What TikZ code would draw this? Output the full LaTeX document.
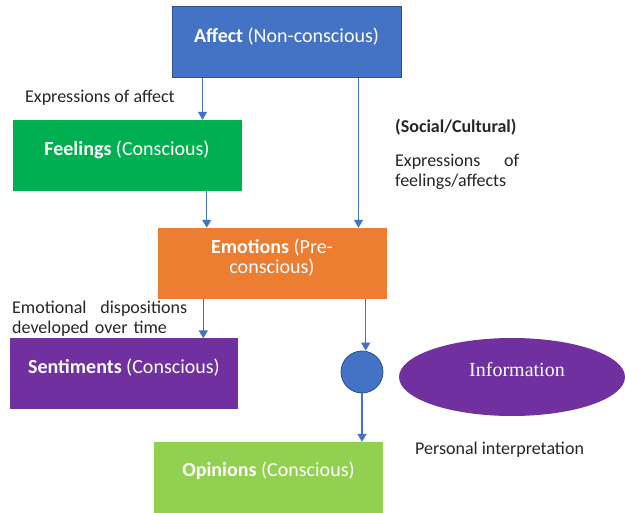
\documentclass[tikz,border=0pt]{standalone}
\usepackage{fontspec}
\setmainfont{Carlito}
\newfontfamily\infofont{Liberation Serif}
\usetikzlibrary{arrows.meta,shapes.geometric,calc}
\definecolor{cblue}{HTML}{4472C4}
\definecolor{cblueborder}{HTML}{2F528F}
\definecolor{cgreen}{HTML}{00B050}
\definecolor{corange}{HTML}{ED7D31}
\definecolor{cpurple}{HTML}{7030A0}
\definecolor{clime}{HTML}{92D050}
\definecolor{ctext}{HTML}{262626}
\begin{document}
\begin{tikzpicture}[x=1pt,y=-1pt,
  box/.style={rectangle, minimum width=229pt, minimum height=71pt, inner sep=0pt,
    text=white, font=\fontsize{20}{20}\selectfont, align=center},
  oneline/.style={text height=13pt, text depth=12pt},
  arr/.style={draw=cblue, line width=1.4pt, -{Triangle[width=9pt,length=8pt]}},
  lbl/.style={font=\fontsize{18}{20}\selectfont, text=ctext, inner sep=0pt}]
\useasboundingbox (0,0) rectangle (625,513);
% boxes
\node[box, oneline, fill=cblue, draw=cblueborder, line width=1pt] (affect) at (286.5,42.5) {\textbf{Affect} (Non-conscious)};
\node[box, oneline, fill=cgreen] (feelings) at (127,155.5) {\textbf{Feelings} (Conscious)};
\node[box, fill=corange, text height=33pt, text depth=13pt] (emotions) at (272,263.5) {\textbf{Emotions} (Pre-\\conscious)};
\node[box, oneline, fill=cpurple, minimum width=228pt, text depth=13pt] (sentiments) at (124,374) {\textbf{Sentiments} (Conscious)};
\node[box, oneline, fill=clime, text depth=14pt] (opinions) at (268.5,477.5) {\textbf{Opinions} (Conscious)};
% circle and ellipse
\node[circle, fill=cblue, draw=cblueborder, line width=0.8pt, minimum size=42pt, inner sep=0pt] (dot) at (362,372) {};
\node[ellipse, fill=cpurple, minimum width=226pt, minimum height=78pt, inner sep=0pt,
  text=white, font=\infofont\fontsize{20}{22}\selectfont, text height=13pt, text depth=13pt] (info) at (512,377) {\hspace{10pt}Information};
% arrows
\draw[arr] ([xshift=31pt]affect.south west) -- ([xshift=31pt]affect.south west |- feelings.north);
\draw[arr] ([xshift=-43pt]affect.south east) -- ([xshift=-43pt]affect.south east |- emotions.north);
\draw[arr] ([xshift=-35pt]feelings.south east) -- ([xshift=-35pt]feelings.south east |- emotions.north);
\draw[arr] ([xshift=46pt]emotions.south west) -- ([xshift=46pt]emotions.south west |- sentiments.north);
\draw[arr] ([xshift=-21pt]emotions.south east) -- ([xshift=-21pt]emotions.south east |- dot.north);
\draw[arr] (dot.south) -- (dot.south |- opinions.north);
% labels
\node[lbl, anchor=west] (l1) at (25,98) {Expressions of affect};
\node[lbl, anchor=west] (l2) at (395,127) {\textbf{(Social/Cultural)}};
\node[lbl, anchor=north west, text width=124pt, align=left] (l3) at (395,154) {Expressions\hfill of\\feelings/affects};
\node[lbl, anchor=north west, text width=175pt, align=left] (l4) at (12,301) {Emotional\hfill dispositions\\developed over time};
\node[lbl, anchor=west] (l5) at (415,450) {Personal interpretation};
\end{tikzpicture}
\end{document}
